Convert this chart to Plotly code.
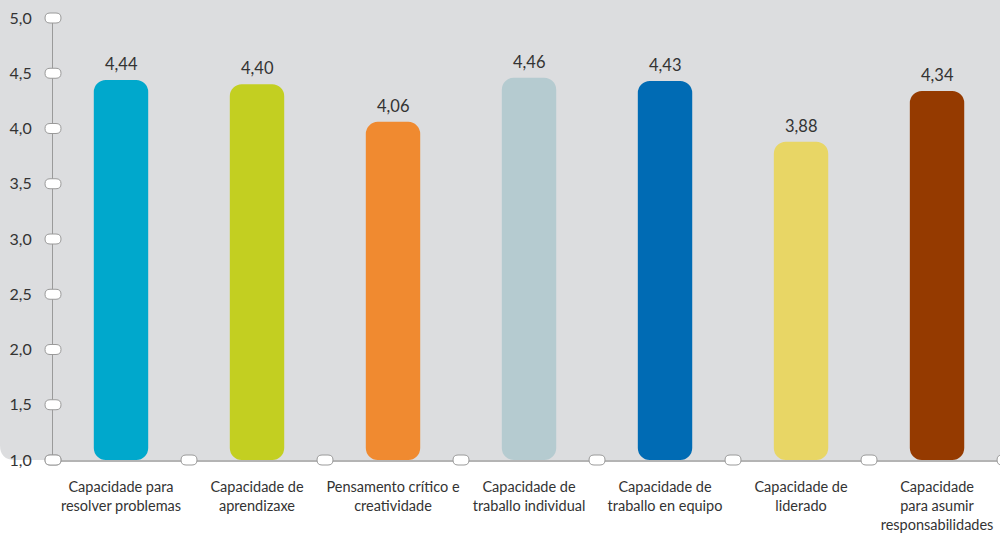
import plotly.graph_objects as go

# Data
categories = [
    "Capacidade para<br>resolver problemas",
    "Capacidade de<br>aprendizaxe",
    "Pensamento crítico e<br>creatividade",
    "Capacidade de<br>traballo individual",
    "Capacidade de<br>traballo en equipo",
    "Capacidade de<br>liderado",
    "Capacidade<br>para asumir<br>responsabilidades",
]
values = [4.44, 4.40, 4.06, 4.46, 4.43, 3.88, 4.34]
colors = ["#00a8cc", "#c3cf21", "#f08a30", "#b5cbd0", "#006bb4", "#e8d665", "#953a00"]
y_ticks = [1.0, 1.5, 2.0, 2.5, 3.0, 3.5, 4.0, 4.5, 5.0]

FONT = "Lato"
TXT = "#333333"
GREY_BG = "#dcdddf"
Y0, Y1 = 1.0, 5.0
X0, X1 = -0.5, 6.463

# plot area in pixels (for the background path)
W, H = 1000, 536
ML, MR, MT, MB = 53, 0, 18, 76
pw, ph = W - ML - MR, H - MT - MB


def px_x(p):
    return (p - ML) / pw


def px_y(p):
    return (H - MB - p) / ph


xs = list(range(len(categories)))

fig = go.Figure()

# with an explicit base plotly rounds both ends of the bar
fig.add_trace(go.Bar(
    x=xs, y=[v - Y0 for v in values], base=[Y0] * len(values),
    width=0.4, marker=dict(color=colors, line=dict(width=0), cornerradius=12),
    customdata=values, hovertemplate="%{customdata}<extra></extra>", showlegend=False,
))

for x, v in zip(xs, values):
    fig.add_annotation(
        x=x, y=v, text=f"{v:.2f}".replace(".", ","), showarrow=False,
        yanchor="middle", yshift=16, font=dict(family=FONT, size=16.5, color=TXT),
    )

# grey background with rounded lower-left corner
r = 15
bg_path = (
    f"M {px_x(0)},{px_y(0)} L {px_x(W)},{px_y(0)} L {px_x(W)},{px_y(H - MB)} "
    f"L {px_x(r)},{px_y(H - MB)} Q {px_x(0)},{px_y(H - MB)} {px_x(0)},{px_y(H - MB - r)} Z"
)
fig.add_shape(type="path", xref="paper", yref="paper", path=bg_path,
              fillcolor=GREY_BG, line=dict(width=0), layer="below")

# pill markers on the axes
pill = "M -3,-5 L 3,-5 Q 8,-5 8,0 Q 8,5 3,5 L -3,5 Q -8,5 -8,0 Q -8,-5 -3,-5 Z"
pill_style = dict(type="path", xref="paper", yref="paper", xsizemode="pixel",
                  ysizemode="pixel", path=pill, fillcolor="white",
                  line=dict(color="#9a9a9a", width=1), layer="above")
for t in y_ticks:
    fig.add_shape(xanchor=0, yanchor=(t - Y0) / (Y1 - Y0), **pill_style)
for i in range(len(categories) + 1):
    fig.add_shape(xanchor=(i - 0.5 - X0) / (X1 - X0), yanchor=0, **pill_style)

fig.update_layout(
    width=W, height=H,
    margin=dict(l=ML, r=MR, t=MT, b=MB),
    paper_bgcolor="white", plot_bgcolor="rgba(0,0,0,0)",
    separators=",.",
    font=dict(family=FONT, color=TXT),
    showlegend=False,
)
fig.update_xaxes(
    range=[X0, X1], tickvals=xs, ticktext=categories, showgrid=False, zeroline=False,
    showline=True, linecolor="#b4b4b4", linewidth=2, ticks="",
    tickfont=dict(family=FONT, size=14.5, color=TXT), ticklabelstandoff=13,
)
fig.update_yaxes(
    range=[Y0, Y1], tickvals=y_ticks, tickformat=".1f", showgrid=False, zeroline=False,
    showline=True, linecolor="#9a9a9a", linewidth=1, ticks="",
    tickfont=dict(family=FONT, size=16, color=TXT), ticklabelstandoff=17,
)

# page body has a default margin; remove it so the figure sits at 0,0
fig.write_html("out.html", config={"displayModeBar": False},
               post_script="document.body.style.margin='0px';")
